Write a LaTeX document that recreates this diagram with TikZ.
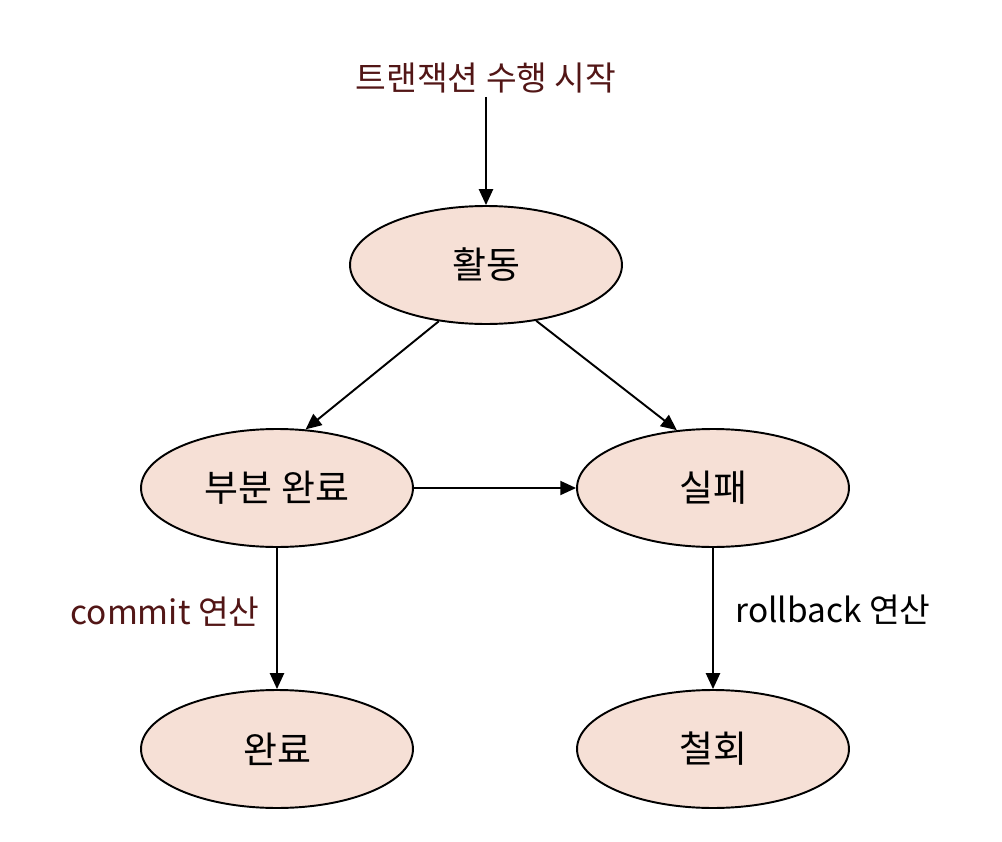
\documentclass[tikz,border=0pt]{standalone}
\usepackage{fontspec}
\setmainfont{Noto Sans CJK KR}
\usetikzlibrary{shapes.geometric,arrows.meta}
\definecolor{statefill}{RGB}{246,224,214}
\definecolor{lblred}{RGB}{82,22,22}
\begin{document}
\begin{tikzpicture}[x=0.02cm,y=-0.02cm,
	state/.style={draw,ellipse,fill=statefill,line width=1.1pt,minimum width=5.44cm,minimum height=2.36cm,inner sep=0,font=\fontsize{21}{24}\selectfont},
	lbl/.style={inner sep=2pt,font=\fontsize{19}{22}\selectfont},
	arr/.style={-{Triangle[length=9pt,width=8pt]},line width=1.1pt}]
	\useasboundingbox (0,0) rectangle (1002,842);
	\node [lbl,text=lblred] at (486,78) (start) {트랜잭션 수행 시작};
	\node [state] at (486,265) (act) {활동};
	\node [state] at (277,488) (part) {부분 완료};
	\node [state] at (713,488) (fail) {실패};
	\node [state] at (277,749) (done) {완료};
	\node [state] at (713,749) (abort) {철회};
	
	\node [lbl,text=lblred] at (165,612) (commit) {commit 연산};
	\node [lbl] at (833,610) (rollback) {rollback 연산};
	
	\draw [arr] (start) -- (act);
	\draw [arr] (act.-130) -- (part.64);
	\draw [arr] (act.-48) -- (fail.122);
	\draw [arr] (part) -- (fail);
	\draw [arr] (part) -- (done);
	\draw [arr] (fail) -- (abort);
\end{tikzpicture}
\end{document}
